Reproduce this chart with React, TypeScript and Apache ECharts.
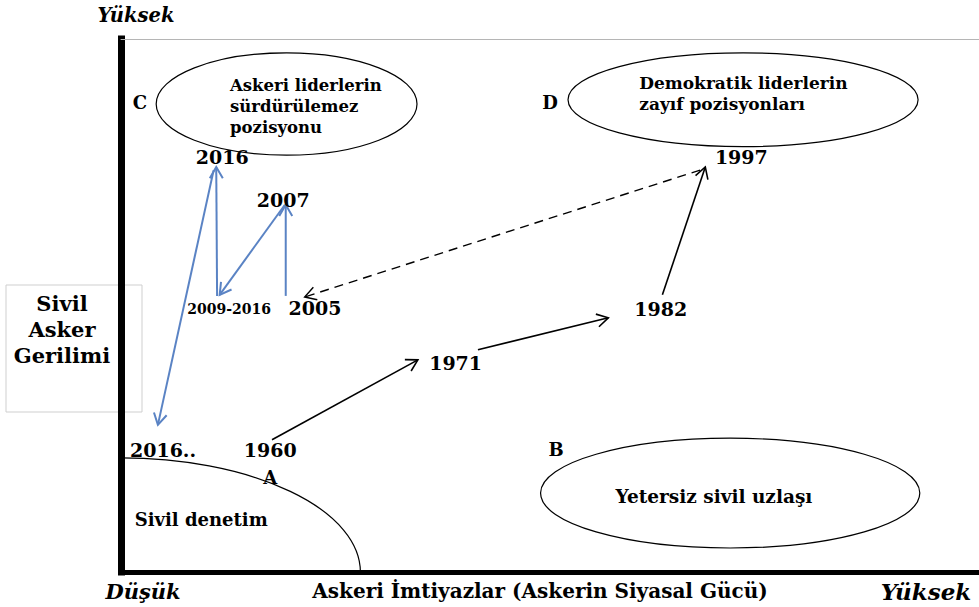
import React, { useEffect, useRef } from "react";
import * as echarts from "echarts";

// Conceptual axes: x = Askeri İmtiyazlar (0–100), y = Sivil Asker Gerilimi (0–100)
const axisMin = 0;
const axisMax = 100;

// Year points (labels) on the diagram
const yearLabels = ["2016", "2007", "2009-2016", "2005", "1982", "1971", "1997", "1960", "2016.."];
const yearX = [11.8, 18.9, 12.6, 22.6, 62.9, 39.0, 72.3, 17.4, 4.9];
const yearY = [77.9, 69.8, 49.3, 49.5, 49.3, 39.2, 77.9, 22.9, 22.9];

// Region letters
const regionLetters = ["A", "B", "C", "D"];
const letterX = [17.4, 50.7, 2.2, 50.0];
const letterY = [17.8, 22.9, 88.0, 88.0];

// Trajectories: [fromX, fromY, toX, toY]
const blackPath = [
  [17.6, 24.8, 34.6, 39.8],
  [41.6, 41.7, 56.8, 47.7],
  [63.1, 52.0, 68.1, 76.0],
];
const dashedPath = [[67.5, 75.4, 21.4, 51.6]];
const bluePath = [
  [19.2, 51.8, 19.2, 68.9],
  [19.1, 68.9, 11.5, 52.0],
  [11.2, 51.8, 11.1, 76.0],
  [10.8, 75.4, 4.3, 27.6],
];

// Zones (ellipses)
const zoneNames = [
  "Askeri liderlerin\nsürdürülemez\npozisyonu",
  "Demokratik liderlerin\nzayıf pozisyonları",
  "Yetersiz sivil uzlaşı",
];
const zoneCx = [19.3, 72.5, 71.0];
const zoneCy = [87.8, 88.6, 14.8];
const zoneRx = [15.2, 20.4, 22.1];
const zoneRy = [9.6, 8.8, 10.3];
const zoneTextX = [12.7, 60.4, 69.1];
const zoneTextY = [87.4, 89.8, 14.1];

// Civil control quarter-ellipse (centred at origin)
const controlName = "Sivil denetim";
const controlRadius = [27.9, 21.4];
const controlTextPos = [1.6, 9.9];

const axisTitle = "Askeri İmtiyazlar (Askerin Siyasal Gücü)";
const lowLabel = "Düşük";
const highLabel = "Yüksek";
const yTitleLines = ["Sivil", "Asker", "Gerilimi"];

const SERIF = "'DejaVu Serif', 'Liberation Serif', serif";
const BLUE = "#5a83c4";

function arrowRenderer(color: string, width: number, dashed: boolean) {
  return (params: any, api: any) => {
    const p1 = api.coord([api.value(0), api.value(1)]);
    const p2 = api.coord([api.value(2), api.value(3)]);
    const ang = Math.atan2(p2[1] - p1[1], p2[0] - p1[0]);
    const L = 13;
    const a = Math.PI / 6;
    const h1 = [p2[0] - L * Math.cos(ang - a), p2[1] - L * Math.sin(ang - a)];
    const h2 = [p2[0] - L * Math.cos(ang + a), p2[1] - L * Math.sin(ang + a)];
    return {
      type: "group",
      children: [
        {
          type: "line",
          shape: { x1: p1[0], y1: p1[1], x2: p2[0], y2: p2[1] },
          style: { stroke: color, lineWidth: width, lineDash: dashed ? [9, 6] : null },
        },
        {
          type: "polyline",
          shape: { points: [h1, p2, h2] },
          style: { stroke: color, lineWidth: width, fill: "none" },
        },
      ],
    };
  };
}

// Text series: each item [x, y]; texts/fonts supplied per index
function textSeries(
  name: string,
  texts: string[],
  xs: number[],
  ys: number[],
  fontFor: (i: number) => string,
  alignFor: (i: number) => string,
  lineHeight?: number
) {
  return {
    type: "custom",
    name,
    silent: true,
    renderItem: (params: any, api: any) => {
      const i = params.dataIndex;
      const p = api.coord([api.value(0), api.value(1)]);
      return {
        type: "text",
        x: p[0],
        y: p[1],
        style: {
          text: texts[i],
          font: fontFor(i),
          fill: "#000",
          align: alignFor(i),
          verticalAlign: "middle",
          lineHeight: lineHeight,
        },
      };
    },
    data: xs.map((x, i) => [x, ys[i]]),
  };
}

export default function App() {
  const ref = useRef<HTMLDivElement>(null);

  useEffect(() => {
    if (!ref.current) return;
    const chart = echarts.init(ref.current, null, { renderer: "svg" });

    const hiddenAxisBits = {
      axisTick: { show: false },
      axisLabel: { show: false },
      splitLine: { show: false },
    };

    const zoneTexts = [...zoneNames, controlName];
    const zoneTX = [...zoneTextX, controlTextPos[0]];
    const zoneTY = [...zoneTextY, controlTextPos[1]];
    const zoneFontSizes = [16.5, 17, 18.5, 18];

    const option: any = {
      animation: false,
      backgroundColor: "#ffffff",
      grid: { left: 121, right: 0, top: 39, bottom: 35 },
      xAxis: [
        {
          type: "value",
          min: axisMin,
          max: axisMax,
          axisLine: { show: true, onZero: false, lineStyle: { color: "#000", width: 5, cap: "square" } },
          ...hiddenAxisBits,
        },
        {
          type: "value",
          position: "top",
          min: axisMin,
          max: axisMax,
          axisLine: { show: true, onZero: false, lineStyle: { color: "#b5b5b5", width: 1 } },
          ...hiddenAxisBits,
        },
      ],
      yAxis: {
        type: "value",
        min: axisMin,
        max: axisMax,
        axisLine: { show: true, onZero: false, lineStyle: { color: "#000", width: 7, cap: "square" } },
        ...hiddenAxisBits,
      },
      graphic: [
        {
          type: "rect",
          z: -10,
          shape: { x: 6, y: 285, width: 136, height: 127 },
          style: { fill: "transparent", stroke: "#cfcfcf", lineWidth: 1 },
        },
        ...yTitleLines.map((t, i) => ({
          type: "text",
          x: 62,
          y: 303 + i * 26,
          style: {
            text: t,
            font: `bold 21px ${SERIF}`,
            fill: "#000",
            align: "center",
            verticalAlign: "middle",
          },
        })),
        {
          type: "text",
          x: 136,
          y: 15,
          style: { text: highLabel, font: `italic bold 19.5px ${SERIF}`, fill: "#000", align: "center", verticalAlign: "middle" },
        },
        {
          type: "text",
          x: 143,
          y: 591,
          style: { text: lowLabel, font: `italic bold 21px ${SERIF}`, fill: "#000", align: "center", verticalAlign: "middle" },
        },
        {
          type: "text",
          x: 926,
          y: 591,
          style: { text: highLabel, font: `italic bold 23px ${SERIF}`, fill: "#000", align: "center", verticalAlign: "middle" },
        },
        {
          type: "text",
          x: 540,
          y: 591,
          style: { text: axisTitle, font: `bold 20px ${SERIF}`, fill: "#000", align: "center", verticalAlign: "middle" },
        },
      ],
      series: [
        {
          type: "custom",
          name: "zones",
          silent: true,
          renderItem: (params: any, api: any) => {
            const c = api.coord([api.value(0), api.value(1)]);
            const s = api.size([api.value(2), api.value(3)]);
            return {
              type: "ellipse",
              shape: { cx: c[0], cy: c[1], rx: s[0], ry: s[1] },
              style: { fill: "none", stroke: "#000", lineWidth: 1.2 },
            };
          },
          data: zoneCx.map((cx, i) => [cx, zoneCy[i], zoneRx[i], zoneRy[i]]),
        },
        {
          type: "custom",
          name: "control",
          silent: true,
          renderItem: (params: any, api: any) => {
            const c = api.coord([api.value(0), api.value(1)]);
            const s = api.size([api.value(2), api.value(3)]);
            const sx = c[0];
            const sy = c[1] - s[1];
            const ex = c[0] + s[0];
            const ey = c[1];
            return {
              type: "path",
              shape: { pathData: `M ${sx} ${sy} A ${s[0]} ${s[1]} 0 0 1 ${ex} ${ey}` },
              style: { fill: "none", stroke: "#000", lineWidth: 1.2 },
            };
          },
          data: [[0, 0, controlRadius[0], controlRadius[1]]],
        },
        {
          type: "custom",
          name: "black",
          silent: true,
          renderItem: arrowRenderer("#000", 1.6, false),
          data: blackPath,
        },
        {
          type: "custom",
          name: "dashed",
          silent: true,
          renderItem: arrowRenderer("#000", 1.4, true),
          data: dashedPath,
        },
        {
          type: "custom",
          name: "blue",
          silent: true,
          renderItem: arrowRenderer(BLUE, 2, false),
          data: bluePath,
        },
        textSeries(
          "years",
          yearLabels,
          yearX,
          yearY,
          (i) => `bold ${yearLabels[i] === "2009-2016" ? 14 : 19}px ${SERIF}`,
          () => "center"
        ),
        textSeries(
          "letters",
          regionLetters,
          letterX,
          letterY,
          () => `bold 18px ${SERIF}`,
          () => "center"
        ),
        textSeries(
          "zoneText",
          zoneTexts,
          zoneTX,
          zoneTY,
          (i) => `bold ${zoneFontSizes[i]}px ${SERIF}`,
          (i) => (i === 2 ? "center" : "left"),
          21
        ),
      ],
    };

    chart.setOption(option);
    return () => chart.dispose();
  }, []);

  return (
    <div
      ref={ref}
      style={{ position: "fixed", left: 0, top: 0, width: 979, height: 607, background: "#fff" }}
    />
  );
}
